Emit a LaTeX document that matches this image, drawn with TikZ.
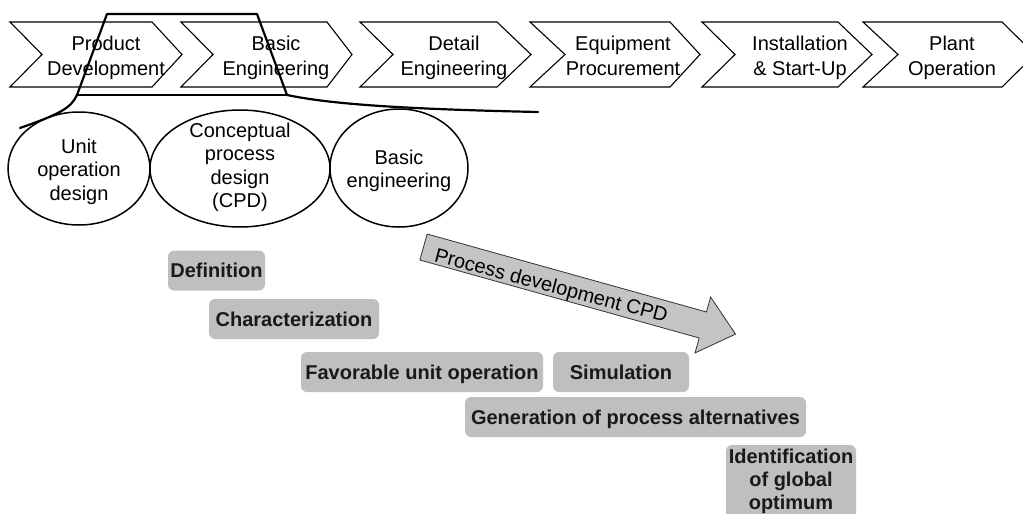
\documentclass[tikz,border=0pt]{standalone}
\usepackage{fontspec}
\setmainfont{Liberation Sans}
\usetikzlibrary{shapes.geometric}
\definecolor{boxgray}{HTML}{BFBFBF}
\definecolor{arrgray}{HTML}{C4C4C4}
\newcommand\mychev[5]{\draw[chev] (#1,22) -- (#3,22) -- (#4,54.5) -- (#3,87) -- (#1,87) -- (#2,54.5) -- cycle; \coordinate (#5) at (#2,54.5);}
\begin{document}
\begin{tikzpicture}[x=1pt,y=-1pt,
  chev/.style={draw=black, line width=1.1pt, line join=miter},
  ctext/.style={font=\fontsize{20}{25}\selectfont, align=center, inner sep=0pt},
  ell/.style={draw=black, ellipse, line width=1.5pt, inner sep=0pt},
  etext/.style={font=\fontsize{20}{23.5}\selectfont, align=center, inner sep=0pt},
  gbox/.style={fill=boxgray, rounded corners=6pt, inner sep=0pt, minimum height=40pt, font=\fontsize{20}{23}\selectfont\bfseries, text height=14pt, text depth=0pt, text=black!90},
  gboxm/.style={fill=boxgray, rounded corners=6pt, inner sep=0pt, align=center, font=\fontsize{20}{23}\selectfont\bfseries, text=black!90},
  trap/.style={line width=2.2pt, line join=round, line cap=round},
  bigarrow/.style={fill=arrgray, draw=black!80, line width=0.8pt, line join=miter},
  atext/.style={font=\fontsize{20}{24}\selectfont, inner sep=0pt}]
\useasboundingbox (0,0) rectangle (1023,514);
\clip (0,0) rectangle (1023,514);
% chevrons
\mychev{10}{42}{152}{182}{k1}
\mychev{181}{213}{327}{352}{k2}
\mychev{360}{393}{497}{531}{k3}
\mychev{530}{565}{670}{700}{k4}
\mychev{702}{735}{838}{872}{k5}
\mychev{863}{898}{1002}{1035}{k6}
\node[ctext] (c1) at (106,57.5) {\strut Product\\Development\strut};
\node[ctext] (c2) at (276,57.5) {\strut Basic\\Engineering\strut};
\node[ctext] (c3) at (454,57.5) {\strut Detail\\Engineering\strut};
\node[ctext] (c4) at (623,57.5) {\strut Equipment\\Procurement\strut};
\node[ctext] (c5) at (800,57.5) {\strut Installation\\\& Start-Up\strut};
\node[ctext] (c6) at (952,57.5) {\strut Plant\\Operation\strut};
% trapezoid outline
\draw[trap] (20,128) .. controls (60,114) and (71,108) .. (77,95) -- (107,14) -- (257,14) -- (287,95) .. controls (330,104) and (400,109) .. (538,112);
\draw[trap] (77,95) -- (287,95);
% ellipses
\node[ell, minimum width=142pt, minimum height=113pt] (e1) at (79,168.5) {};
\node[ell, minimum width=180pt, minimum height=117pt] (e2) at (240,168.5) {};
\node[ell, minimum width=138pt, minimum height=118pt] (e3) at (399,168) {};
\node[etext] (t1) at (79,172) {\strut Unit\\operation\\design\strut};
\node[etext] (t2) at (240,168) {\strut Conceptual\\process\\design\\(CPD)\strut};
\node[etext] (t3) at (399,171.5) {\strut Basic\\engineering\strut};
% big arrow
\begin{scope}[shift={(423.5,247)}, rotate=-15.6]
\draw[bigarrow] (0,-13.5) -- (290,-13.5) -- (290,-29) -- (324,0) -- (290,29) -- (290,13.5) -- (0,13.5) -- cycle;
\end{scope}
\node[atext, rotate=-14.8] (at) at (551,287) {Process development CPD};
% grey boxes
\node[gbox, minimum width=97pt] (def) at (216.5,270.5) {Definition};
\node[gbox, minimum width=170pt] (char) at (294,319) {Characterization};
\node[gbox, minimum width=242pt] (fav) at (422,372) {Favorable unit operation};
\node[gbox, minimum width=136pt] (sim) at (621,372) {Simulation};
\node[gbox, minimum width=341pt] (gen) at (635.5,417) {Generation of process alternatives};
\node[gboxm, minimum width=130pt, minimum height=74pt] (ident) at (791,482) {\strut Identification\\of global\\optimum\strut};
\end{tikzpicture}
\end{document}
